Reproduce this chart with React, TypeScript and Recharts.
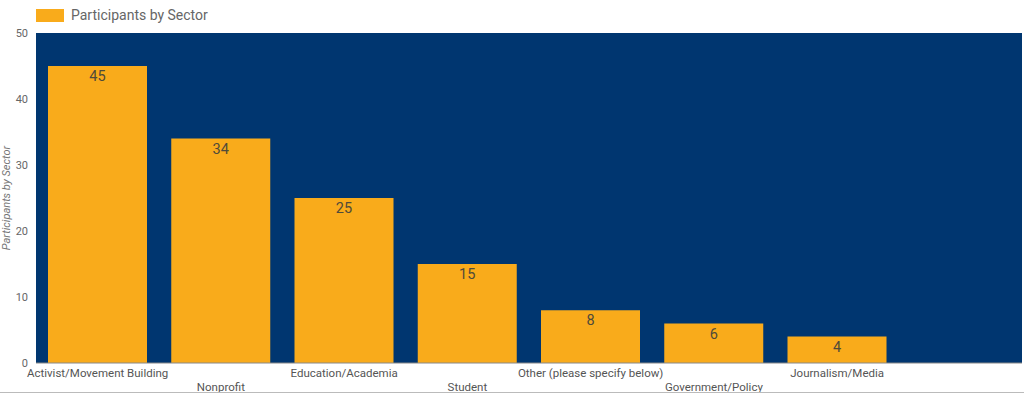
import { BarChart, Bar, XAxis, YAxis, CartesianGrid, LabelList, Legend } from "recharts";

// Sector categories (last slot is empty in the original)
const sectors = [
  "Activist/Movement Building",
  "Nonprofit",
  "Education/Academia",
  "Student",
  "Other (please specify below)",
  "Government/Policy",
  "Journalism/Media",
  "",
];
const participants = [45, 34, 25, 15, 8, 6, 4, null];
const yTicks = [0, 10, 20, 30, 40, 50];

const data = sectors.map((name, i) => ({ name, value: participants[i] }));

const BLUE = "#003670";
const ORANGE = "#F9AB1B";
const FONT = "Roboto, 'Noto Sans', sans-serif";

// staggered category labels, every second one drops a row
const StaggerTick = (props: any) => {
  const { x, y, payload, index } = props;
  const dy = index % 2 === 0 ? 2 : 16;
  return (
    <text
      x={x}
      y={y + dy}
      textAnchor="middle"
      fill="#555"
      fontSize={11.5}
      fontFamily={FONT}
      dominantBaseline="central"
    >
      {payload.value}
    </text>
  );
};

const LegendBox = () => (
  <div style={{ display: "flex", alignItems: "center", fontFamily: FONT }}>
    <span style={{ display: "inline-block", width: 28, height: 13, background: ORANGE, marginRight: 7 }} />
    <span style={{ fontSize: 14, color: "#666" }}>Participants by Sector</span>
  </div>
);

export default function App() {
  return (
    <div style={{ position: "absolute", left: 0, top: 0, width: 1024, height: 395, background: "#fff" }}>
      <BarChart
        width={1024}
        height={395}
        data={data}
        margin={{ top: 17, right: 2, left: 0, bottom: 0 }}
        barCategoryGap={12}
      >
        <CartesianGrid horizontal={false} vertical={false} fill={BLUE} fillOpacity={1} stroke="#888" />
        <Legend
          verticalAlign="top"
          align="left"
          content={<LegendBox />}
          wrapperStyle={{ top: 7, left: 36 }}
        />
        <XAxis
          dataKey="name"
          interval={0}
          tickLine={false}
          axisLine={{ stroke: "#888" }}
          tick={<StaggerTick />}
          height={32}
        />
        <YAxis
          domain={[0, 50]}
          ticks={yTicks}
          width={36}
          tickLine={false}
          axisLine={false}
          tick={{ fill: "#666", fontSize: 11, fontFamily: FONT }}
          label={{
            value: "Participants by Sector",
            angle: -90,
            position: "insideLeft",
            offset: 0,
            dx: 6,
            style: { fill: "#777", fontSize: 11, fontStyle: "italic", fontFamily: FONT, textAnchor: "middle" },
          }}
        />
        <Bar dataKey="value" fill={ORANGE} isAnimationActive={false}>
          <LabelList
            dataKey="value"
            position="insideTop"
            offset={5}
            fill="#4f4a3a"
            fontSize={14.5}
            fontFamily={FONT}
          />
        </Bar>
      </BarChart>
      <div style={{ position: "absolute", left: 0, top: 392, width: 1024, height: 1, background: "#bbb" }} />
    </div>
  );
}
